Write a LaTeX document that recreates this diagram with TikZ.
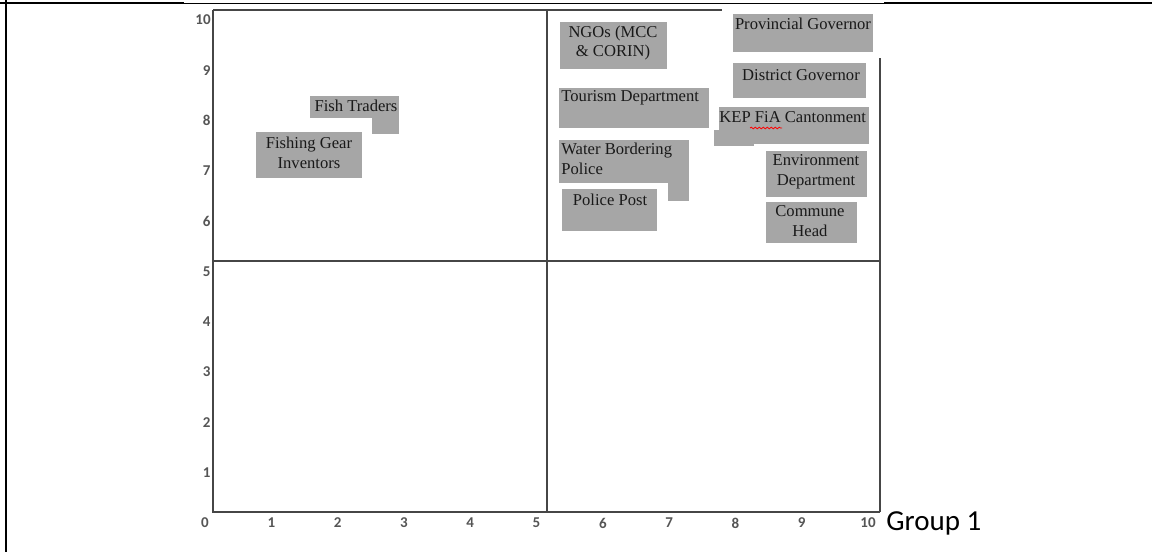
\documentclass[tikz,border=0pt]{standalone}
\usepackage{fontspec}
\setmainfont{Liberation Serif}
\newfontfamily\calfont{Carlito}
\usetikzlibrary{decorations.pathmorphing}
\definecolor{boxgray}{RGB}{166,166,166}
\definecolor{axisgray}{RGB}{70,70,70}
\definecolor{tickgray}{RGB}{85,85,85}

\begin{document}
\begin{tikzpicture}[x=0.5pt, y=-0.5pt,
    frame/.style={black, line width=1.3pt},
    axis/.style={axisgray, line width=0.9pt},
    patch/.style={fill=boxgray},
    actor/.style={font=\fontsize{8.3}{9.8}\selectfont, text=black!90, inner sep=0pt},
    tick/.style={font=\calfont\bfseries\fontsize{7.5}{8}\selectfont, text=tickgray, inner sep=0pt}
]
    \useasboundingbox (0,0) rectangle (1152,552);
    % outer cell border
    \draw[frame] (6,0) -- (6,552);
    \draw[frame] (0,3) -- (184,3);
    \draw[black, line width=0.5pt] (184,3) -- (884,3);
    \draw[frame] (884,3) -- (1152,3);
    % quadrant frame
    \draw[axis] (213,10) -- (213,512) -- (880,512);
    \draw[axis] (213,10) -- (722,10);
    \draw[axis] (880,58) -- (880,512);
    \draw[axis] (213,261) -- (880,261);
    \draw[axis] (547,10) -- (547,512);
    % tick labels
    \foreach \v in {0,...,10} {
        \node[tick] (xt\v) at ({205+66.3*\v},523) {\v};
    }
    \foreach \v in {1,...,10} {
        \node[tick, anchor=east] (yt\v) at (211,{523-50.3*\v}) {\v};
    }
    \node[font=\calfont\fontsize{14.5}{15}\selectfont, anchor=west, inner sep=0pt] (grp) at (886,523) {Group 1};
    % grey patches
    \fill[patch] (310,96) rectangle (399,118);
    \fill[patch] (372,96) rectangle (399,134);
    \fill[patch] (256,132) rectangle (362,178);
    \fill[patch] (560,22) rectangle (667,69);
    \fill[patch] (733,14) rectangle (873,52);
    \fill[patch] (733,63) rectangle (866,98);
    \fill[patch] (559,88) rectangle (709,128);
    \fill[patch] (719,107) rectangle (869,144);
    \fill[patch] (714,130) rectangle (754,146);
    \fill[patch] (559,140) rectangle (689,183);
    \fill[patch] (668,140) rectangle (689,201);
    \fill[patch] (562,189) rectangle (657,231);
    \fill[patch] (766,151) rectangle (867,197);
    \fill[patch] (766,202) rectangle (857,243);
    % actors
    \node[actor] (trader) at (356,106) {Fish Traders};
    \node[actor, align=center] (gear) at (309,153) {Fishing Gear\\Inventors};
    \node[actor, align=center] (ngo) at (613,43) {NGOs (MCC\\\& CORIN)};
    \node[actor] (prov) at (803,24) {Provincial Governor};
    \node[actor] (dist) at (801,75) {District Governor};
    \node[actor, anchor=west] (tour) at (561,98) {Tourism Department};
    \node[actor, anchor=west] (kep) at (719,117) {KEP FiA Cantonment};
    \node[actor, align=left, anchor=west] (water) at (561,159) {Water Bordering\\Police};
    \node[actor] (post) at (610,200) {Police Post};
    \node[actor, align=center] (env) at (816,172) {Environment\\Department};
    \node[actor, align=center] (comm) at (810,221) {Commune\\Head};
    % spell-check mark
    \draw[red, line width=0.4pt, decorate, decoration={snake, amplitude=0.4pt, segment length=2pt}] (750,128) -- (782,128);
\end{tikzpicture}
\end{document}
